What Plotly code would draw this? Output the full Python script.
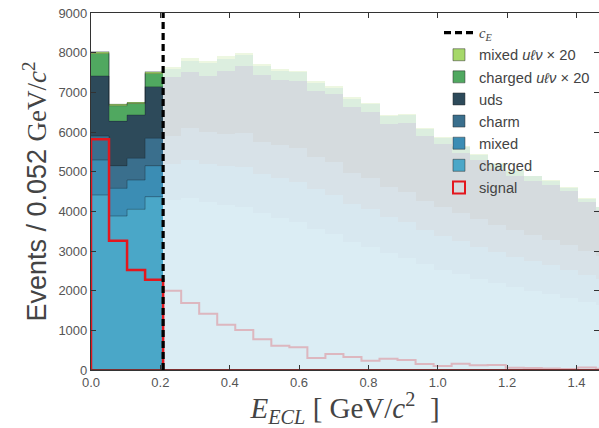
import numpy as np
import plotly.graph_objects as go

# ---------------- data ----------------
bin_width = 0.052
cut_value = 0.208          # c_E
n_cut_bins = 4             # bins left of the cut drawn in full colour

charged = [4412, 3882, 4051, 4369, 4290, 4330, 4230, 4160, 4100, 3950, 3840, 3740, 3560, 3430,
           3230, 3110, 2950, 2820, 2660, 2530, 2420, 2300, 2190, 2090, 2000, 1910, 1820, 1720, 1630]
mixed = [882, 698, 739, 781, 900, 960, 970, 990, 1020, 1000, 1010, 1010, 1000, 990,
         950, 950, 910, 900, 870, 850, 830, 810, 790, 770, 750, 730, 710, 680, 660]
charm = [605, 570, 547, 691, 700, 800, 790, 810, 846, 806, 822, 838, 818, 830,
         778, 790, 761, 760, 730, 720, 700, 690, 670, 660, 650, 640, 620, 600, 580]
uds = [1512, 1120, 1091, 1301, 1490, 1420, 1410, 1580, 1689, 1680, 1646, 1693, 1655, 1700,
       1664, 1662, 1573, 1738, 1639, 1590, 1520, 1490, 1410, 1380, 1370, 1380, 1360, 1230, 1160]
charged_ulnu = [572, 393, 290, 337, 210, 292, 330, 310, 290, 229, 232, 224, 207, 170,
                212, 191, 206, 202, 179, 165, 150, 135, 125, 115, 110, 100, 90, 85, 75]
mixed_ulnu = [41, 35, 20, 41, 40, 55, 60, 55, 55, 45, 45, 40, 40, 35,
              40, 35, 40, 40, 35, 30, 30, 25, 25, 25, 20, 20, 20, 15, 15]
signal = [5815, 3256, 2521, 2278, 1995, 1689, 1420, 1143, 1008, 773, 613, 572, 302, 403,
          328, 235, 286, 252, 151, 101, 160, 118, 126, 59, 50, 40, 25, 60, 30]

y_ticks = [0, 1000, 2000, 3000, 4000, 5000, 6000, 7000, 8000, 9000]
x_ticks = [0.0, 0.2, 0.4, 0.6, 0.8, 1.0, 1.2, 1.4]

# ---------------- styles ----------------
layers = [
    ("charged", charged, (74, 167, 200)),
    ("mixed", mixed, (59, 141, 180)),
    ("charm", charm, (58, 111, 141)),
    ("uds", uds, (45, 74, 90)),
    ("charged <i>uℓν</i> × 20", charged_ulnu, (80, 168, 96)),
    ("mixed <i>uℓν</i> × 20", mixed_ulnu, (166, 216, 106)),
]
legend_rank = {"mixed <i>uℓν</i> × 20": 2, "charged <i>uℓν</i> × 20": 3, "uds": 4,
               "charm": 5, "mixed": 6, "charged": 7}
fade_alpha = 0.2

n = len(signal)
edges = np.arange(n + 1) * bin_width
centers = edges[:-1] + bin_width / 2

fig = go.Figure()

cum = np.zeros(n)
tops = []
for name, vals, rgb in layers:
    vals = np.array(vals, dtype=float)
    full = "rgb(%d,%d,%d)" % rgb
    faded = "rgba(%d,%d,%d,%.2f)" % (rgb + (fade_alpha,))
    colors = [full if i < n_cut_bins else faded for i in range(n)]
    fig.add_trace(go.Bar(
        x=centers, y=vals, width=bin_width, name=name,
        marker=dict(color=colors, line=dict(width=0)),
        legendrank=legend_rank[name], showlegend=False,
    ))
    # legend proxy (full colour with thin edge)
    fig.add_trace(go.Bar(
        x=[None], y=[None], name=name,
        marker=dict(color=full, line=dict(color="rgba(40,40,40,0.6)", width=0.8)),
        legendrank=legend_rank[name], showlegend=True,
    ))
    cum = cum + vals
    tops.append(cum.copy())

# thin outlines of the stacked layers left of the cut
for t in tops:
    xs = list(edges[:n_cut_bins + 1])
    ys = list(t[:n_cut_bins]) + [t[n_cut_bins - 1]]
    fig.add_trace(go.Scatter(x=xs, y=ys, mode="lines", line=dict(shape="hv", width=0.8,
                  color="rgba(20,30,40,0.45)"), showlegend=False, hoverinfo="skip"))

# signal (full red left of cut, faded right of cut)
xs_l = [0.0] + list(edges[:n_cut_bins + 1]) + [edges[n_cut_bins]]
ys_l = [0.0] + list(signal[:n_cut_bins]) + [signal[n_cut_bins - 1], 0.0]
fig.add_trace(go.Scatter(x=xs_l, y=ys_l, mode="lines",
                         line=dict(shape="hv", width=2.5, color="#e3171e"),
                         showlegend=False, hoverinfo="skip"))
xs_r = list(edges[n_cut_bins:])
ys_r = list(signal[n_cut_bins:]) + [signal[-1]]
fig.add_trace(go.Scatter(x=xs_r, y=ys_r, mode="lines",
                         line=dict(shape="hv", width=2, color="rgba(227,23,30,0.25)"),
                         showlegend=False, hoverinfo="skip"))
# baseline of the signal step outline
fig.add_trace(go.Scatter(x=[0, edges[-1]], y=[0, 0], mode="lines",
                         line=dict(width=2, color="#7d2f2f"), showlegend=False, hoverinfo="skip"))
# signal legend proxy
fig.add_trace(go.Bar(x=[None], y=[None], name="signal",
                     marker=dict(color="rgba(0,0,0,0)", line=dict(color="#e3171e", width=2)),
                     legendrank=8))

# cut line c_E
fig.add_trace(go.Scatter(x=[cut_value, cut_value], y=[0, 9000], mode="lines",
                         name='<span style="font-family:Liberation Serif"><i>c</i><sub><i>E</i></sub></span>',
                         line=dict(color="black", width=3.2, dash="7px,4px"),
                         legendrank=1, hoverinfo="skip"))

serif = "Liberation Serif, DejaVu Serif, serif"
fig.update_layout(
    width=599, height=428,
    margin=dict(l=91, r=0, t=13, b=58),
    barmode="stack", bargap=0, bargroupgap=0,
    plot_bgcolor="white", paper_bgcolor="white",
    font=dict(family="Liberation Sans, Arial, sans-serif", color="#444"),
    showlegend=True,
    legend=dict(x=0.685, y=0.99, xanchor="left", yanchor="top",
                bgcolor="rgba(0,0,0,0)", borderwidth=0,
                font=dict(size=14.7, color="#444"), traceorder="normal",
                itemwidth=30),
    xaxis=dict(range=[0, 1.465], tickvals=x_ticks, ticktext=["%.1f" % v for v in x_ticks],
               ticks="inside", ticklen=5, tickcolor="#333", tickwidth=1,
               showline=True, linecolor="#333", linewidth=1.2, mirror="ticks",
               showgrid=False, zeroline=False,
               tickfont=dict(size=13, color="#555"),
               title=dict(text="<i>E</i><sub><i>ECL</i></sub> [ GeV/<i>c</i><sup>2</sup>  ]",
                          font=dict(family=serif, size=29, color="#444"), standoff=5)),
    yaxis=dict(range=[0, 9000], tickvals=y_ticks,
               ticks="inside", ticklen=5, tickcolor="#333", tickwidth=1,
               showline=True, linecolor="#333", linewidth=1.2, mirror="ticks",
               showgrid=False, zeroline=False,
               tickfont=dict(size=13, color="#555"),
               title=dict(text='Events / 0.052 <span style="font-family:Liberation Serif">GeV/<i>c</i><sup>2</sup></span>',
                          font=dict(size=27, color="#444"), standoff=3)),
)

fig.write_html("out.html")
